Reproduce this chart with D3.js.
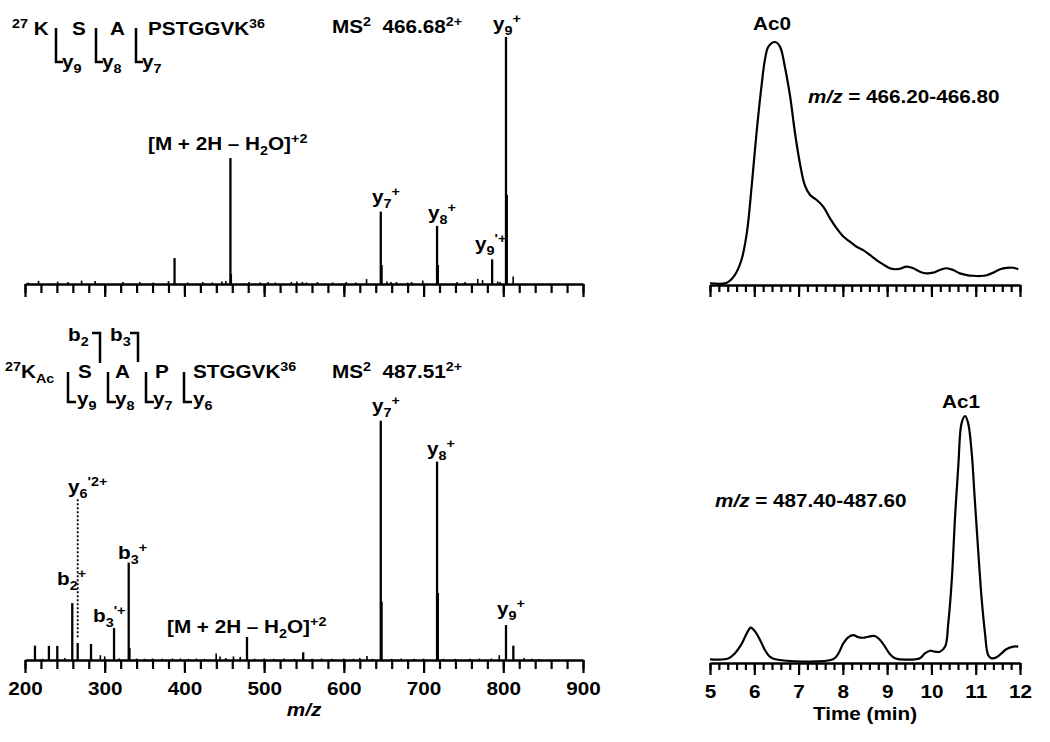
<!DOCTYPE html>
<html>
<head>
<meta charset="utf-8">
<script src="https://cdn.jsdelivr.net/npm/d3@7"></script>
<style>
  body { margin: 0; background: #fff; }
  text { white-space: pre; }
</style>
</head>
<body>
<script>
// MS2 spectra (m/z, relative intensity)
const topMz = [204, 217, 241, 254, 271, 288, 323, 344, 361, 380, 387.6, 404, 423, 435, 447, 452, 457.7, 458.3,
  481, 495, 505, 514, 534, 541, 548, 553, 567, 586, 603, 615, 628.5, 646.3, 647.3, 654, 659, 666, 680, 685, 699,
  716.9, 717.9, 742, 752, 768, 774, 786, 793, 796, 803.4, 804.4, 812.4];
const topInt = [0.6, 1.3, 1, 0.8, 1.4, 1.2, 0.8, 0.8, 0.6, 1.2, 10.5, 0.6, 0.8, 0.6, 1, 1.2, 51, 4,
  0.8, 0.6, 0.8, 0.6, 0.8, 1, 0.8, 0.6, 0.8, 0.6, 0.8, 0.6, 2, 29.3, 7.7, 1, 0.8, 0.8, 0.6, 0.8, 1.4,
  23.5, 7.7, 0.8, 0.8, 2.1, 1.6, 10, 1, 0.8, 100, 36, 3];

const botMz = [212.5, 222, 230, 240.5, 250, 259.3, 266.1, 282.8, 294.5, 300, 311.7, 318, 330.1, 331.1, 340, 350, 360,
  372, 385, 395, 405, 415, 425, 439.8, 444.7, 452, 461.5, 470, 478.5, 488, 500, 512, 525, 538, 549, 560, 572, 585,
  600, 612, 620, 629, 636, 646.3, 647.3, 660, 672, 688, 700, 716.9, 717.9, 725, 740, 758, 770, 785, 795, 803.4,
  812.6, 826, 836, 845];
const botInt = [6, 0.5, 5.9, 5.9, 0.8, 23.8, 7.1, 6.7, 2, 1.5, 13.4, 0.6, 40.7, 5, 0.6, 0.5, 0.6,
  0.5, 0.6, 0.6, 0.5, 0.6, 0.5, 2.7, 1.5, 0.8, 1.5, 1.3, 9.6, 0.5, 0.6, 0.5, 0.6, 0.5, 3.2, 0.5, 0.6, 0.5,
  0.6, 0.5, 0.8, 1.7, 0.5, 100, 24.4, 0.5, 0.6, 0.5, 0.6, 82.9, 28, 0.5, 0.5, 0.5, 0.6, 0.6, 2, 14.6,
  6, 0.8, 0.5, 0.4];
const y6Dotted = [266.1, 9.5, 67.7]; // m/z, from, to

// extracted ion chromatograms
const ac0Time = [5.0, 5.38, 5.56, 5.71, 5.83, 5.94, 6.05, 6.17, 6.24, 6.32, 6.47, 6.58, 6.69, 6.81, 6.92, 7.03,
  7.14, 7.26, 7.41, 7.56, 7.71, 7.86, 8.01, 8.16, 8.31, 8.46, 8.61, 8.76, 8.91, 9.06, 9.18, 9.29, 9.44, 9.59,
  9.74, 9.89, 10.04, 10.19, 10.34, 10.49, 10.64, 10.8, 10.94, 11.1, 11.25, 11.4, 11.55, 11.7, 11.85, 11.96];
const ac0Int = [0.3, 0.55, 3.7, 9.9, 20.9, 40.2, 62.3, 82.9, 92.6, 98.1, 100, 98.1, 89.8, 77.4, 62.3, 49.9,
  40.9, 36.8, 34.7, 31.9, 27.1, 23, 19.6, 17.5, 15.4, 14, 12, 9.9, 8.1, 6.5, 6.1, 6.3, 7.2, 6.5,
  5.1, 4.4, 4.7, 5.8, 6.5, 5.8, 4.4, 3.7, 3.4, 3.3, 3.6, 4.7, 6.1, 6.7, 6.7, 6.1];
const ac1Time = [5.0, 5.41, 5.56, 5.72, 5.83, 5.92, 6.02, 6.13, 6.24, 6.35, 6.47, 7.78, 7.9, 8.01, 8.12, 8.24,
  8.35, 8.46, 8.57, 8.72, 8.84, 8.95, 9.06, 9.18, 9.29, 9.74, 9.85, 9.97, 10.08, 10.19, 10.31, 10.38, 10.46,
  10.53, 10.61, 10.68, 10.76, 10.83, 10.91, 10.98, 11.06, 11.13, 11.21, 11.28, 11.36, 11.47, 11.58, 11.69,
  11.85, 11.96];
const ac1Int = [1.1, 1.4, 3.5, 7.6, 11.7, 14, 12.4, 9, 4.9, 2.2, 1.1, 1.1, 3.5, 7.6, 10.1, 11,
  10.1, 9.9, 10.3, 10.6, 9, 6.3, 3.3, 1.5, 1.1, 1.5, 3.5, 4.6, 4.2, 4.2, 6.3, 15.8, 33.5,
  58, 81.1, 97.4, 100.4, 97.4, 85.2, 66.1, 44.4, 26.7, 11.7, 2.9, 1.5, 1.9, 3.5, 5.2,
  6.3, 6.3];

const mzTicks = d3.range(200, 901, 100);
const mzMinor = d3.range(200, 901, 20);
const timeTicks = d3.range(5, 13, 1);
const timeMinor = d3.range(0, 36).map(i => 5 + i * 0.2);

const FONT = "'Liberation Sans', Arial, sans-serif";
const SX = 1.15; // the original lettering is a bit wide

const svg = d3.select("body").append("svg")
  .attr("width", 1050).attr("height", 742)
  .style("background", "#fff");

// text with sub / superscripts, baseline at y
function rich(x, y, segs, anchor) {
  const t = svg.append("text")
    .attr("transform", `translate(${x},${y}) scale(${SX},1)`)
    .attr("font-family", FONT).attr("font-weight", "bold")
    .attr("font-size", 18).attr("fill", "#000")
    .attr("text-anchor", anchor || "start");
  let shift = 0;
  segs.forEach(s => {
    const txt = Array.isArray(s) ? s[0] : s;
    const kind = Array.isArray(s) ? s[1] : "n";
    const target = kind === "sub" ? 5 : kind === "sup" ? -7 : 0;
    const ts = t.append("tspan").attr("dy", target - shift).text(txt);
    if (kind === "sub" || kind === "sup") ts.attr("font-size", 12.5);
    if (kind === "it") ts.attr("font-style", "italic");
    shift = target;
  });
  return t;
}

function bracket(d) {
  svg.append("path").attr("d", d).attr("fill", "none")
    .attr("stroke", "#000").attr("stroke-width", 2.5);
}

// ---- scales
const x = d3.scaleLinear().domain([200, 900]).range([25, 583]);
const yTop = d3.scaleLinear().domain([0, 100]).range([284, 37]);
const yBot = d3.scaleLinear().domain([0, 100]).range([660, 420.7]);
const t = d3.scaleLinear().domain([5, 12]).range([710, 1020]);
const cTop = d3.scaleLinear().domain([0, 100]).range([284, 42]);
const cBot = d3.scaleLinear().domain([0, 100]).range([662, 417]);

function drawAxis(scale, yPos, major, minor, majLen, minLen, labels, labelY) {
  const gMin = svg.append("g").attr("transform", `translate(0,${yPos})`)
    .call(d3.axisBottom(scale).tickValues(minor).tickSize(minLen).tickFormat(""));
  gMin.select(".domain").remove();
  const g = svg.append("g").attr("transform", `translate(0,${yPos})`)
    .call(d3.axisBottom(scale).tickValues(major).tickSize(majLen).tickSizeOuter(0)
      .tickFormat(labels ? d3.format("d") : ""));
  svg.selectAll("g.tick line").attr("stroke", "#000").attr("stroke-width", 2.2);
  g.select(".domain").attr("stroke", "#000").attr("stroke-width", 2.5);
  g.selectAll("text")
    .attr("y", labelY).attr("dy", 0)
    .attr("transform", `scale(${SX},1)`)
    .attr("font-family", FONT).attr("font-weight", "bold")
    .attr("font-size", 18).attr("fill", "#000");
}

function drawPeaks(mz, ints, yScale) {
  svg.append("g").selectAll("line").data(mz).join("line")
    .attr("x1", d => x(d)).attr("x2", d => x(d))
    .attr("y1", yScale(0)).attr("y2", (d, i) => yScale(ints[i]))
    .attr("stroke", "#000").attr("stroke-width", (d, i) => ints[i] > 3 ? 2.3 : 1.6);
}

function drawTrace(times, ints, yScale) {
  const line = d3.line().x(d => t(d[0])).y(d => yScale(d[1])).curve(d3.curveCatmullRom);
  svg.append("path").datum(times.map((d, i) => [d, ints[i]]))
    .attr("d", line).attr("fill", "none")
    .attr("stroke", "#000").attr("stroke-width", 2.2);
}

// ---- spectra
drawPeaks(topMz, topInt, yTop);
drawPeaks(botMz, botInt, yBot);
svg.append("line")
  .attr("x1", x(y6Dotted[0])).attr("x2", x(y6Dotted[0]))
  .attr("y1", yBot(y6Dotted[1])).attr("y2", yBot(y6Dotted[2]))
  .attr("stroke", "#000").attr("stroke-width", 1.8).attr("stroke-dasharray", "2,2");

drawAxis(x, 284, mzTicks, mzMinor, 13, 9, false, 0);
drawAxis(x, 660, mzTicks, mzMinor, 13, 9, true, 35);
rich(304, 716, [["m/z", "it"]], "middle");

// ---- chromatograms
drawTrace(ac0Time, ac0Int, cTop);
drawTrace(ac1Time, ac1Int, cBot);
drawAxis(t, 285, timeTicks, timeMinor, 12, 7, false, 0);
drawAxis(t, 663, timeTicks, timeMinor, 12, 7, true, 35);
rich(865, 720, ["Time (min)"], "middle");

rich(772, 30, ["Ac0"], "middle");
rich(808, 103, [["m/z", "it"], " = 466.20-466.80"]);
rich(961, 408, ["Ac1"], "middle");
rich(715, 507, [["m/z", "it"], " = 487.40-487.60"]);

// ---- peptide annotation, top
rich(12, 35, [["27", "sup"], " K"]);
rich(72, 35, ["S"]);
rich(110, 35, ["A"]);
rich(148, 35, ["PSTGGVK", ["36", "sup"]]);
[[56, 62, "9"], [96, 102, "8"], [136, 142, "7"]].forEach(b => {
  bracket(`M${b[0]},28V62H${b[0] + 7}`);
  rich(b[1], 68, ["y", [b[2], "sub"]]);
});
rich(332, 33, ["MS", ["2", "sup"], "  466.68", ["2+", "sup"]]);

// ---- peptide annotation, bottom
rich(5, 378, [["27", "sup"], "K", ["Ac", "sub"]]);
rich(68, 341, ["b", ["2", "sub"]]);
rich(110, 341, ["b", ["3", "sub"]]);
bracket("M92,333H100V363");
bracket("M130,333H138V362");
rich(78, 378, ["S"]);
rich(115, 378, ["A"]);
rich(155, 378, ["P"]);
rich(193, 378, ["STGGVK", ["36", "sup"]]);
[[68, 77, "9"], [108, 115, "8"], [146, 153, "7"], [184, 193, "6"]].forEach(b => {
  bracket(`M${b[0]},372V402H${b[0] + 8}`);
  rich(b[1], 405, ["y", [b[2], "sub"]]);
});
rich(332, 378, ["MS", ["2", "sup"], "  487.51", ["2+", "sup"]]);

// ---- fragment labels, top
rich(148, 150, ["[M + 2H \u2013 H", ["2", "sub"], "O]", ["+2", "sup"]]);
rich(372, 203, ["y", ["7", "sub"], ["+", "sup"]]);
rich(428, 219, ["y", ["8", "sub"], ["+", "sup"]]);
rich(475, 250, ["y", ["9", "sub"], ["'+", "sup"]]);
rich(493, 30, ["y", ["9", "sub"], ["+", "sup"]]);

// ---- fragment labels, bottom
rich(68, 493, ["y", ["6", "sub"], ["'2+", "sup"]]);
rich(57, 585, ["b", ["2", "sub"], ["+", "sup"]]);
rich(118, 559, ["b", ["3", "sub"], ["+", "sup"]]);
rich(93, 622, ["b", ["3", "sub"], ["'+", "sup"]]);
rich(167, 633, ["[M + 2H \u2013 H", ["2", "sub"], "O]", ["+2", "sup"]]);
rich(372, 412, ["y", ["7", "sub"], ["+", "sup"]]);
rich(427, 455, ["y", ["8", "sub"], ["+", "sup"]]);
rich(497, 615, ["y", ["9", "sub"], ["+", "sup"]]);
</script>
</body>
</html>
